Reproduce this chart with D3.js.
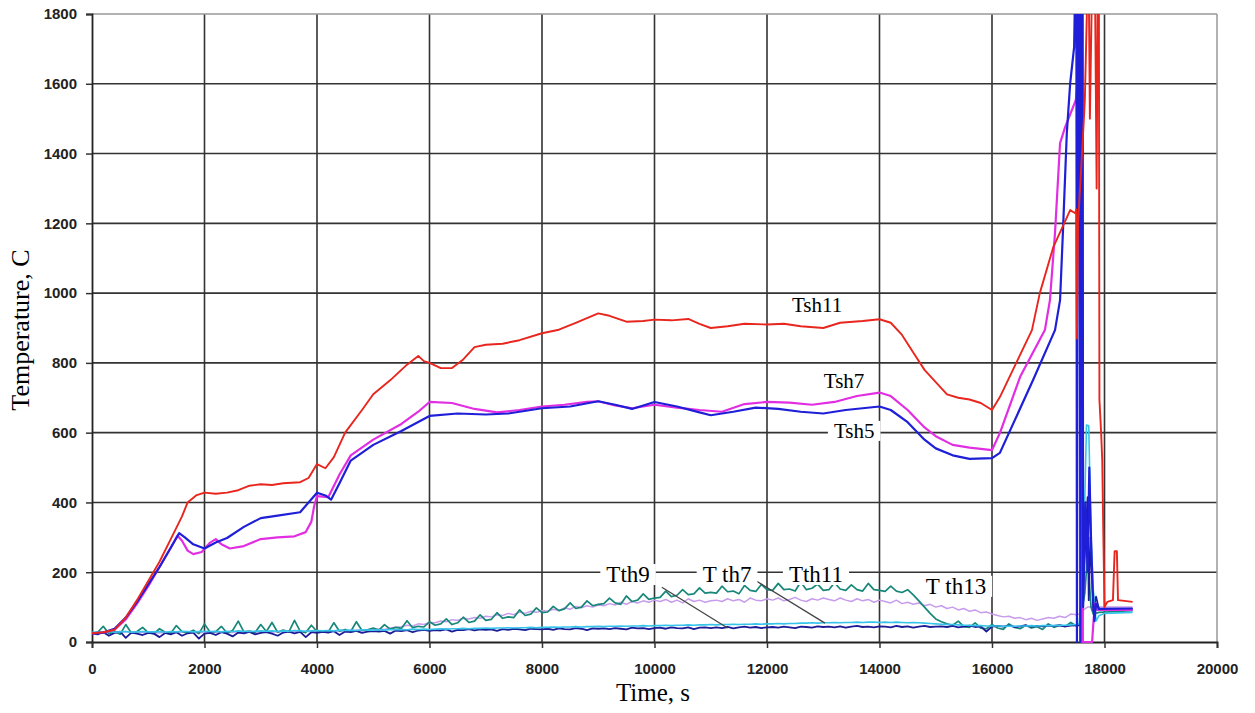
<!DOCTYPE html>
<html lang="en">
<head>
<meta charset="utf-8">
<title>Temperature vs time</title>
<script src="https://d3js.org/d3.v7.min.js"></script>
<style>
  body { margin: 0; background: #fff; }
  .tick-label { font-family: "Liberation Sans", Arial, sans-serif; font-weight: bold; font-size: 15px; fill: #222; }
  .axis-title { font-family: "Liberation Serif", "Times New Roman", serif; font-size: 25px; fill: #000; }
  .series-label { font-family: "Liberation Serif", "Times New Roman", serif; fill: #000; }
</style>
</head>
<body>
<div id="chart"></div>
<script>

var xTicks = [0, 2000, 4000, 6000, 8000, 10000, 12000, 14000, 16000, 18000, 20000];
var yTicks = [0, 200, 400, 600, 800, 1000, 1200, 1400, 1600, 1800];

// shell thermocouples, [time s, temperature C]
var tsh11 = [[0,25],[200,28],[400,35],[600,70],[800,120],[1000,175],[1200,230],[1400,295],[1600,360],[1700,400],
  [1850,420],[2000,428],[2200,425],[2400,428],[2600,435],[2800,448],[3000,452],[3200,450],[3400,455],[3700,458],
  [3850,470],[4000,510],[4150,498],[4300,530],[4500,600],[4800,665],[5000,710],[5300,750],[5600,795],[5800,820],
  [5900,805],[6000,800],[6200,785],[6400,785],[6600,810],[6800,845],[7000,852],[7300,855],[7600,865],[8000,885],
  [8300,895],[8600,915],[9000,942],[9200,935],[9500,918],[9800,920],[10000,924],[10300,922],[10600,926],[10800,912],
  [11000,900],[11300,905],[11600,912],[12000,910],[12300,912],[12600,905],[13000,900],[13300,915],[13700,920],[14000,925],
  [14200,915],[14400,880],[14600,830],[14800,780],[15000,745],[15200,710],[15400,700],[15600,695],[15800,685],[16000,665],
  [16140,702],[16440,803],[16710,894],[16850,1000],[17090,1132],[17390,1238],[17480,1229],[17500,1240],[17510,870],[17530,1200],
  [17600,1400],[17650,1550],[17700,1900],[17720,1900],[17740,1500],[17780,1900],[17830,1900],[17860,1300],[17880,1900],[17900,1900],
  [17910,694],[17940,600],[17960,520],[17980,300],[18000,100],[18050,115],[18150,120],[18180,260],[18220,260],[18240,120],[18500,115]];

var tsh7 = [[0,25],[200,27],[400,35],[600,65],[800,110],[1000,160],[1200,215],[1400,270],[1520,305],[1600,290],
  [1700,262],[1800,252],[1950,258],[2100,285],[2200,295],[2300,280],[2450,268],[2700,275],[3000,295],[3300,300],
  [3600,303],[3800,315],[3900,345],[3950,390],[4000,418],[4200,415],[4400,480],[4600,535],[5000,580],[5500,625],
  [5800,660],[6000,688],[6400,685],[6800,668],[7200,658],[7600,665],[8000,675],[8400,680],[8800,688],[9000,690],
  [9300,678],[9600,670],[10000,680],[10400,672],[10800,665],[11200,660],[11600,682],[12000,688],[12400,686],[12800,680],
  [13200,688],[13600,705],[14000,715],[14200,705],[14500,665],[14800,615],[15000,590],[15300,565],[15600,557],[16000,550],
  [16140,599],[16500,760],[16940,894],[17030,980],[17120,1172],[17210,1430],[17300,1476],[17490,1553],[17520,1600],[17540,1900],
  [17570,1900],[17580,0],[17595,1900],[17605,1900],[17615,0],[17780,0],[17800,50],[17830,110],[17870,92],[18500,92]];

var tsh5 = [[0,25],[200,27],[400,38],[600,70],[800,115],[1000,165],[1200,215],[1400,270],[1550,312],[1650,300],
  [1800,280],[2000,268],[2200,285],[2400,298],[2700,330],[3000,355],[3300,362],[3700,372],[3850,400],[4000,428],
  [4150,420],[4250,408],[4400,455],[4600,520],[5000,565],[5500,605],[6000,648],[6500,655],[7000,652],[7400,655],
  [8000,670],[8500,675],[9000,690],[9300,680],[9600,668],[10000,688],[10400,675],[10800,658],[11000,650],[11400,660],
  [11800,672],[12200,668],[12600,660],[13000,655],[13400,665],[14000,675],[14200,665],[14500,630],[14800,580],[15000,555],
  [15300,535],[15600,525],[16000,527],[16140,542],[16730,751],[17120,894],[17210,980],[17260,1172],[17330,1459],[17390,1602],
  [17460,1705],[17480,1900],[17500,1900],[17510,0],[17530,1900],[17560,1900],[17570,0],[17590,1900],[17610,1900],[17620,100],
  [17660,400],[17700,200],[17730,500],[17760,300],[17790,150],[17820,60],[17850,110],[17900,95],[18500,96]];

// thermal insulation thermocouples, sampled every 100 s from 0 to 17500 s
var thStep = 100;
var tth11Vals = [25,28,45,24,30,22,50,26,30,42,27,
  24,38,28,25,47,30,26,34,24,52, 28,30,45,26,33,60,29,31,27,50,
  30,56,28,34,29,62,31,27,48,30, 32,29,55,31,36,30,58,33,35,40,
  34,50,37,42,39,61,41,45,43,58, 48,52,66,50,55,71,56,60,78,62,
  65,84,68,72,70,92,76,80,98,84, 86,102,90,95,112,96,100,118,104,108,
  110,126,112,108,132,116,120,138,122,126, 128,146,130,134,150,136,138,155,140,142,
  140,160,144,146,138,162,148,145,165,150, 148,168,150,152,146,172,150,154,166,148,
  150,170,152,148,164,150,146,168,150,148, 145,160,146,142,150,135,118,100,82,66,
  58,52,48,60,44,42,55,40,38,50, 40,36,52,42,38,48,40,44,36,52,
  42,48,44,56,46];
var tth11Tail = [[17560,50],[17650,140],[17700,250],[17760,100],[17800,80],[17900,85],[18500,90]];

var tth9Vals = [25,22,28,18,26,30,12,27,24,20,26,
  24,14,26,22,28,18,25,27,10,24, 26,20,28,24,16,27,25,29,22,26,
  28,24,18,27,30,25,29,14,28,26, 29,27,31,20,30,28,32,26,30,31,
  30,32,24,33,31,34,28,33,35,32, 34,33,36,30,35,34,37,33,36,35,
  36,32,37,35,38,36,34,38,37,36, 38,35,39,37,36,40,38,34,39,38,
  39,37,40,38,36,41,39,40,37,40, 41,38,42,40,39,42,37,41,42,40,
  42,40,43,39,42,44,41,43,40,42, 43,41,44,42,40,44,43,41,45,43,
  44,42,45,41,44,46,43,44,42,45, 44,42,46,43,45,41,44,46,43,44,
  45,43,46,42,44,47,43,45,30,44, 46,44,47,43,45,48,44,46,45,47,
  46,48,45,47,48];
var tth9Tail = [[17550,48],[17600,60],[17650,250],[17700,415],[17720,120],[17750,300],[17800,90],[17850,130],[17900,95],[18000,95],[18500,95]];

var tth7Vals = [28,29,27,30,28,29,30,28,29,30,29,
  29,30,28,30,29,31,30,29,30,31, 30,31,29,31,30,32,31,30,31,32,
  31,32,30,32,31,33,32,31,32,33, 32,33,32,34,33,34,33,35,34,34,
  35,34,36,35,36,35,37,36,37,36, 37,38,37,38,38,39,38,39,39,40,
  39,40,40,41,40,41,41,42,41,42, 42,43,42,43,43,44,43,44,44,45,
  44,45,45,46,45,46,46,47,46,47, 47,48,47,48,48,49,48,49,49,50,
  49,50,50,51,50,51,51,52,51,52, 52,53,52,53,53,54,54,55,54,55,
  55,56,55,56,56,57,56,57,57,56, 57,56,57,56,55,56,55,54,53,52,
  51,50,50,49,48,48,47,47,46,46, 46,45,46,45,46,46,47,46,47,47,
  47,48,48,49,50];
var tth7Tail = [[17550,52],[17620,200],[17680,622],[17720,620],[17760,300],[17800,150],[17850,60],[17900,75],[18000,82],[18500,85]];

var tth13Vals = [26,27,25,28,26,27,30,26,28,27,26,
  27,26,28,27,26,29,27,28,26,28, 28,27,29,28,27,30,28,29,28,30,
  29,28,30,29,31,30,29,31,30,31, 31,30,32,31,33,32,34,33,35,36,
  37,36,40,42,44,48,46,52,50,56, 55,60,58,64,62,68,66,70,68,74,
  72,78,76,82,78,86,82,88,85,90, 88,94,90,98,94,102,98,104,100,106,
  104,110,106,114,108,116,112,118,114,120, 116,122,114,120,112,124,116,120,114,118,
  120,116,124,118,122,114,126,120,118,124, 120,126,118,122,128,120,116,124,120,126,
  122,118,126,120,116,124,118,122,114,120, 116,112,120,110,114,108,112,104,108,100,
  104,96,100,92,96,88,92,84,86,80, 76,72,74,68,70,64,68,62,66,70,
  68,74,70,80,78];
var tth13Tail = [[17560,80],[17650,95],[17700,100],[18500,100]];

var seriesNames = ["Tth13", "Tth11", "Tth9", "Tth7", "Tsh7", "Tsh5", "Tsh11"];
var seriesColors = ["#c79cec", "#18877a", "#1c1c96", "#36c4ea", "#e22ee2", "#1f1fd8", "#e8261e"];
var seriesWidths = [1.5, 1.7, 1.8, 1.6, 2.2, 2.2, 1.9];

// labels [text, time, temperature, font size]
var labels = [["Tsh11", 12890, 946, 21], ["Tsh7", 13370, 728, 21], ["Tsh5", 13550, 585, 21],
  ["Tth9", 9530, 172, 23], ["T th7", 11290, 172, 23], ["Tth11", 12870, 172, 23], ["T th13", 15360, 138, 23]];
// leader lines [t1, v1, t2, v2]
var leaders = [[10130, 157, 11300, 40], [11750, 181, 13030, 54]];

function withTimes(vals, tail) {
  return vals.map(function(v, i) { return [i * thStep, v]; }).concat(tail);
}

var width = 1255, height = 713;
var mLeft = 92, mRight = 1217, mTop = 14, mBottom = 642;

var svg = d3.select("#chart").append("svg")
  .attr("width", width)
  .attr("height", height);

var x = d3.scaleLinear().domain([0, 20000]).range([mLeft, mRight]);
var y = d3.scaleLinear().domain([0, 1800]).range([mBottom, mTop]);

// grid
svg.append("g").selectAll("line")
  .data(yTicks.filter(function(d) { return d > 0 && d < 1800; }))
  .enter().append("line")
  .attr("x1", mLeft).attr("x2", mRight)
  .attr("y1", function(d) { return y(d); }).attr("y2", function(d) { return y(d); })
  .attr("stroke", "#333").attr("stroke-width", 1.6);

svg.append("g").selectAll("line")
  .data(xTicks.filter(function(d) { return d > 0 && d < 20000; }))
  .enter().append("line")
  .attr("y1", mTop).attr("y2", mBottom)
  .attr("x1", function(d) { return x(d); }).attr("x2", function(d) { return x(d); })
  .attr("stroke", "#333").attr("stroke-width", 1.6);

// frame: top and right are lighter
svg.append("line").attr("x1", mLeft).attr("x2", mRight).attr("y1", mTop).attr("y2", mTop)
  .attr("stroke", "#999").attr("stroke-width", 1.5);
svg.append("line").attr("x1", mRight).attr("x2", mRight).attr("y1", mTop).attr("y2", mBottom)
  .attr("stroke", "#999").attr("stroke-width", 1.5);

// axes
var yAxis = svg.append("g")
  .attr("transform", "translate(" + mLeft + ",0)")
  .call(d3.axisLeft(y).tickValues(yTicks).tickSize(6).tickPadding(9).tickFormat(d3.format("d")));
var xAxis = svg.append("g")
  .attr("transform", "translate(0," + mBottom + ")")
  .call(d3.axisBottom(x).tickValues(xTicks).tickSize(6).tickPadding(15).tickFormat(d3.format("d")));

[yAxis, xAxis].forEach(function(ax) {
  ax.attr("font-size", null).attr("font-family", null);
  ax.select(".domain").attr("stroke", "#222").attr("stroke-width", 1.8);
  ax.selectAll(".tick line").attr("stroke", "#333").attr("stroke-width", 1.5);
  ax.selectAll(".tick text").attr("class", "tick-label");
});

// clip
svg.append("clipPath").attr("id", "plotclip")
  .append("rect").attr("x", mLeft).attr("y", mTop).attr("width", mRight - mLeft).attr("height", mBottom - mTop + 2);

var line = d3.line()
  .x(function(d) { return x(d[0]); })
  .y(function(d) { return y(d[1]); });

var seriesData = [
  withTimes(tth13Vals, tth13Tail),
  withTimes(tth11Vals, tth11Tail),
  withTimes(tth9Vals, tth9Tail),
  withTimes(tth7Vals, tth7Tail),
  tsh7, tsh5, tsh11
];

svg.append("g").attr("clip-path", "url(#plotclip)")
  .selectAll("path")
  .data(seriesData)
  .enter().append("path")
  .attr("d", line)
  .attr("fill", "none")
  .attr("stroke", function(d, i) { return seriesColors[i]; })
  .attr("stroke-width", function(d, i) { return seriesWidths[i]; })
  .attr("stroke-linejoin", "round");

// leader lines
svg.append("g").selectAll("line")
  .data(leaders)
  .enter().append("line")
  .attr("x1", function(d) { return x(d[0]); }).attr("y1", function(d) { return y(d[1]); })
  .attr("x2", function(d) { return x(d[2]); }).attr("y2", function(d) { return y(d[3]); })
  .attr("stroke", "#444").attr("stroke-width", 1.3);

// labels with white boxes
var lab = svg.append("g").selectAll("g")
  .data(labels)
  .enter().append("g");
lab.append("rect").attr("fill", "#fff");
lab.append("text")
  .attr("class", "series-label")
  .attr("text-anchor", "middle")
  .attr("x", function(d) { return x(d[1]); })
  .attr("y", function(d) { return y(d[2]); })
  .attr("font-size", function(d) { return d[3] + "px"; })
  .text(function(d) { return d[0]; });
lab.each(function() {
  var g = d3.select(this);
  var b = g.select("text").node().getBBox();
  g.select("rect")
    .attr("x", b.x - 6).attr("y", b.y + 2)
    .attr("width", b.width + 12).attr("height", b.height - 4);
});

// axis titles
svg.append("text")
  .attr("class", "axis-title")
  .attr("text-anchor", "middle")
  .attr("x", 653).attr("y", 701)
  .text("Time, s");

svg.append("text")
  .attr("class", "axis-title")
  .attr("text-anchor", "middle")
  .attr("font-size", "26px")
  .style("font-size", "26px")
  .attr("transform", "translate(29,330) rotate(-90)")
  .text("Temperature, C");

</script>
</body>
</html>
